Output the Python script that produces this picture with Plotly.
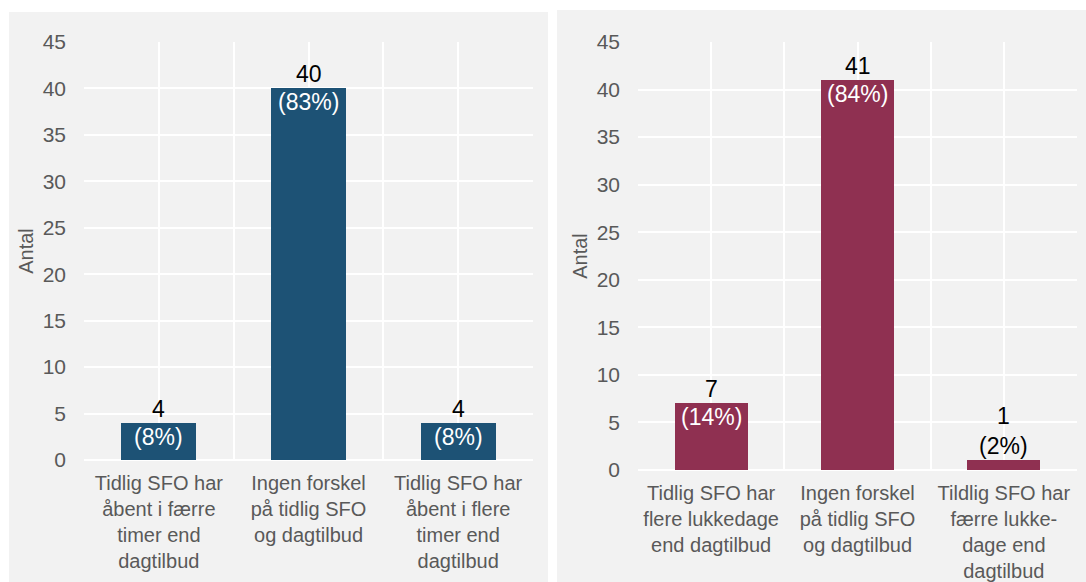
import plotly.graph_objects as go

# ---- data ----
left_categories = [
    "Tidlig SFO har<br>åbent i færre<br>timer end<br>dagtilbud",
    "Ingen forskel<br>på tidlig SFO<br>og dagtilbud",
    "Tidlig SFO har<br>åbent i flere<br>timer end<br>dagtilbud",
]
left_counts = [4, 40, 4]
left_percents = [8, 83, 8]

right_categories = [
    "Tidlig SFO har<br>flere lukkedage<br>end dagtilbud",
    "Ingen forskel<br>på tidlig SFO<br>og dagtilbud",
    "Tildlig SFO har<br>færre lukke-<br>dage end<br>dagtilbud",
]
right_counts = [7, 41, 1]
right_percents = [14, 84, 2]

y_ticks = [0, 5, 10, 15, 20, 25, 30, 35, 40, 45]
y_title = "Antal"

# ---- style ----
W, H = 1086, 582
BLUE = "#1d5275"
MAROON = "#8f3051"
PANEL = "#f2f2f2"
GREY_TXT = "#595959"
FONT = "Liberation Sans, Arial, sans-serif"
INSIDE_MIN = 3  # bars at least this tall hold the percentage inside
LABEL_SIZE = 23

fig = go.Figure()
annotations = []


def add_panel(cats, counts, pcts, color, xa, ya):
    pos = list(range(len(cats)))
    fig.add_trace(go.Bar(
        x=pos, y=counts, width=0.5, marker=dict(color=color, line=dict(width=0)),
        xaxis=xa, yaxis=ya, hoverinfo="skip", showlegend=False,
    ))
    for x, c, p in zip(pos, counts, pcts):
        if c >= INSIDE_MIN:
            annotations.append(dict(
                x=x, y=c, xref=xa, yref=ya, text=f"{c}", showarrow=False,
                yanchor="bottom", xanchor="center", yshift=0, borderpad=0,
                font=dict(family=FONT, size=LABEL_SIZE, color="black"),
            ))
            annotations.append(dict(
                x=x, y=c, xref=xa, yref=ya, text=f"({p}%)", showarrow=False,
                yanchor="top", xanchor="center", yshift=0, borderpad=0,
                font=dict(family=FONT, size=LABEL_SIZE, color="white"),
            ))
        else:
            annotations.append(dict(
                x=x, y=c, xref=xa, yref=ya, text=f"{c}<br>({p}%)", showarrow=False,
                yanchor="bottom", xanchor="center", yshift=0, borderpad=0,
                font=dict(family=FONT, size=LABEL_SIZE, color="black"),
            ))


add_panel(left_categories, left_counts, left_percents, BLUE, "x", "y")
add_panel(right_categories, right_counts, right_percents, MAROON, "x2", "y2")


def xaxis_cfg(cats, domain, anchor):
    n = len(cats)
    vals, texts = [], []
    for i in range(n):
        vals += [i - 0.5, i]
        texts += ["", cats[i]]
    vals.append(n - 0.5)
    texts.append("")
    return dict(
        domain=domain, anchor=anchor, range=[-0.5, n - 0.5],
        tickmode="array", tickvals=vals, ticktext=texts,
        showgrid=True, gridcolor="white", gridwidth=1.5,
        zeroline=False, showline=False, ticks="",
        tickfont=dict(family=FONT, size=20, color=GREY_TXT),
        ticklabelstandoff=9, fixedrange=True, automargin=False,
    )


def yaxis_cfg(domain, anchor):
    return dict(
        domain=domain, anchor=anchor, range=[0, 45],
        tickmode="array", tickvals=y_ticks,
        showgrid=True, gridcolor="white", gridwidth=1.5,
        zeroline=True, zerolinecolor="white", zerolinewidth=1.5,
        showline=False, ticks="",
        tickfont=dict(family=FONT, size=21, color=GREY_TXT),
        ticklabelstandoff=17,
        title=dict(text=y_title, font=dict(family=FONT, size=20, color=GREY_TXT), standoff=3),
        fixedrange=True, automargin=False,
    )


fig.update_layout(
    width=W, height=H,
    margin=dict(l=0, r=0, t=0, b=0, pad=0),
    paper_bgcolor="white",
    plot_bgcolor="rgba(0,0,0,0)",
    font=dict(family=FONT, color=GREY_TXT),
    bargap=0,
    xaxis=xaxis_cfg(left_categories, [84 / W, 533 / W], "y"),
    yaxis=yaxis_cfg([1 - 460 / H, 1 - 42 / H], "x"),
    xaxis2=xaxis_cfg(right_categories, [638 / W, 1077 / W], "y2"),
    yaxis2=yaxis_cfg([1 - 470 / H, 1 - 42 / H], "x2"),
    shapes=[
        dict(type="rect", xref="paper", yref="paper", x0=9 / W, x1=548 / W,
             y0=0, y1=1 - 12 / H, fillcolor=PANEL, line=dict(width=0), layer="below"),
        dict(type="rect", xref="paper", yref="paper", x0=557 / W, x1=1,
             y0=0, y1=1 - 10 / H, fillcolor=PANEL, line=dict(width=0), layer="below"),
    ],
    annotations=annotations,
)

fig.write_html(
    "out.html",
    config={"displayModeBar": False},
    post_script="document.body.style.margin='0';",
)
